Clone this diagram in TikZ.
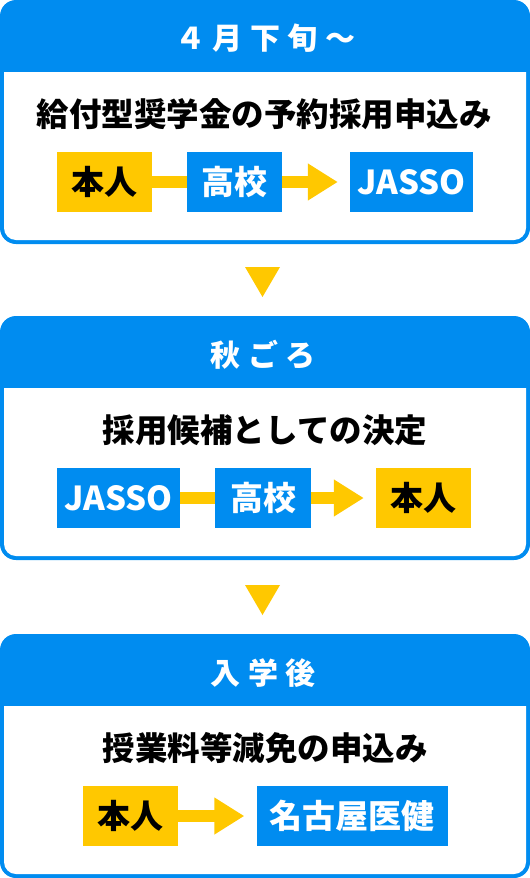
\documentclass[tikz,border=0pt]{standalone}
\usepackage{fontspec}
\setmainfont{Noto Sans CJK JP}
\usetikzlibrary{arrows.meta}
\definecolor{jblue}{RGB}{0,140,240}
\definecolor{jyellow}{RGB}{255,200,0}
\newcommand\lsp{\hspace{0.25em}}

\begin{document}
\begin{tikzpicture}[x=1pt,y=-1pt,
    box/.style={minimum height=60pt,inner sep=0pt,font=\fontsize{33}{33}\selectfont\bfseries},
    bluebox/.style={box,fill=jblue,text=white},
    yelbox/.style={box,fill=jyellow,text=black},
    head/.style={text=white,font=\fontsize{30}{30}\selectfont\bfseries},
    title/.style={text=black,font=\fontsize{32.5}{32.5}\selectfont\bfseries},
    link/.style={draw=jyellow,line width=12pt},
    linkarrow/.style={link,-{Triangle[length=30pt,width=35pt]},shorten >=12pt}]
  \useasboundingbox (0,0) rectangle (530,878);
  % panels
  \foreach \y in {0,316,634}{
    \fill[jblue,rounded corners=16pt] (0,\y) rectangle (530,\y+244);
    \fill[white,rounded corners=12pt] (4,\y+72) -- (4,\y+240) -- (526,\y+240) -- (526,\y+72);
  }
  % down triangles
  \fill[jyellow] (245,267) -- (280,267) -- (262.5,297) -- cycle;
  \fill[jyellow] (245,585) -- (280,585) -- (262.5,615) -- cycle;

  % 4月下旬
  \node[head] (head1) at (265,38) {４\lsp 月\lsp 下\lsp 旬\lsp ～};
  \node[title] (title1) at (264,114) {給付型奨学金の予約採用申込み};
  \node[yelbox,minimum width=95pt] (hon1) at (104,182) {本人};
  \node[bluebox,minimum width=95pt] (kou1) at (234.5,182) {高校};
  \node[bluebox,minimum width=123pt] (jasso1) at (411.5,182) {JASSO};
  \draw[link] (hon1) -- (kou1);
  \draw[linkarrow] (kou1) -- (jasso1);

  % 秋ごろ
  \node[head] (head2) at (263,355) {秋\lsp ご\lsp ろ};
  \node[title] (title2) at (265,430) {採用候補としての決定};
  \node[bluebox,minimum width=123pt] (jasso2) at (118.5,498) {JASSO};
  \node[bluebox,minimum width=96pt] (kou2) at (263,498) {高校};
  \node[yelbox,minimum width=95pt] (hon2) at (423.5,498) {本人};
  \draw[link] (jasso2) -- (kou2);
  \draw[linkarrow] (kou2) -- (hon2);

  % 入学後
  \node[head] (head3) at (263,673) {入\lsp 学\lsp 後};
  \node[title] (title3) at (265,748) {授業料等減免の申込み};
  \node[yelbox,minimum width=95pt] (hon3) at (130.5,816) {本人};
  \node[bluebox,minimum width=191pt] (meiken) at (352,816) {名古屋医健};
  \draw[linkarrow] (hon3) -- (meiken);
\end{tikzpicture}
\end{document}
